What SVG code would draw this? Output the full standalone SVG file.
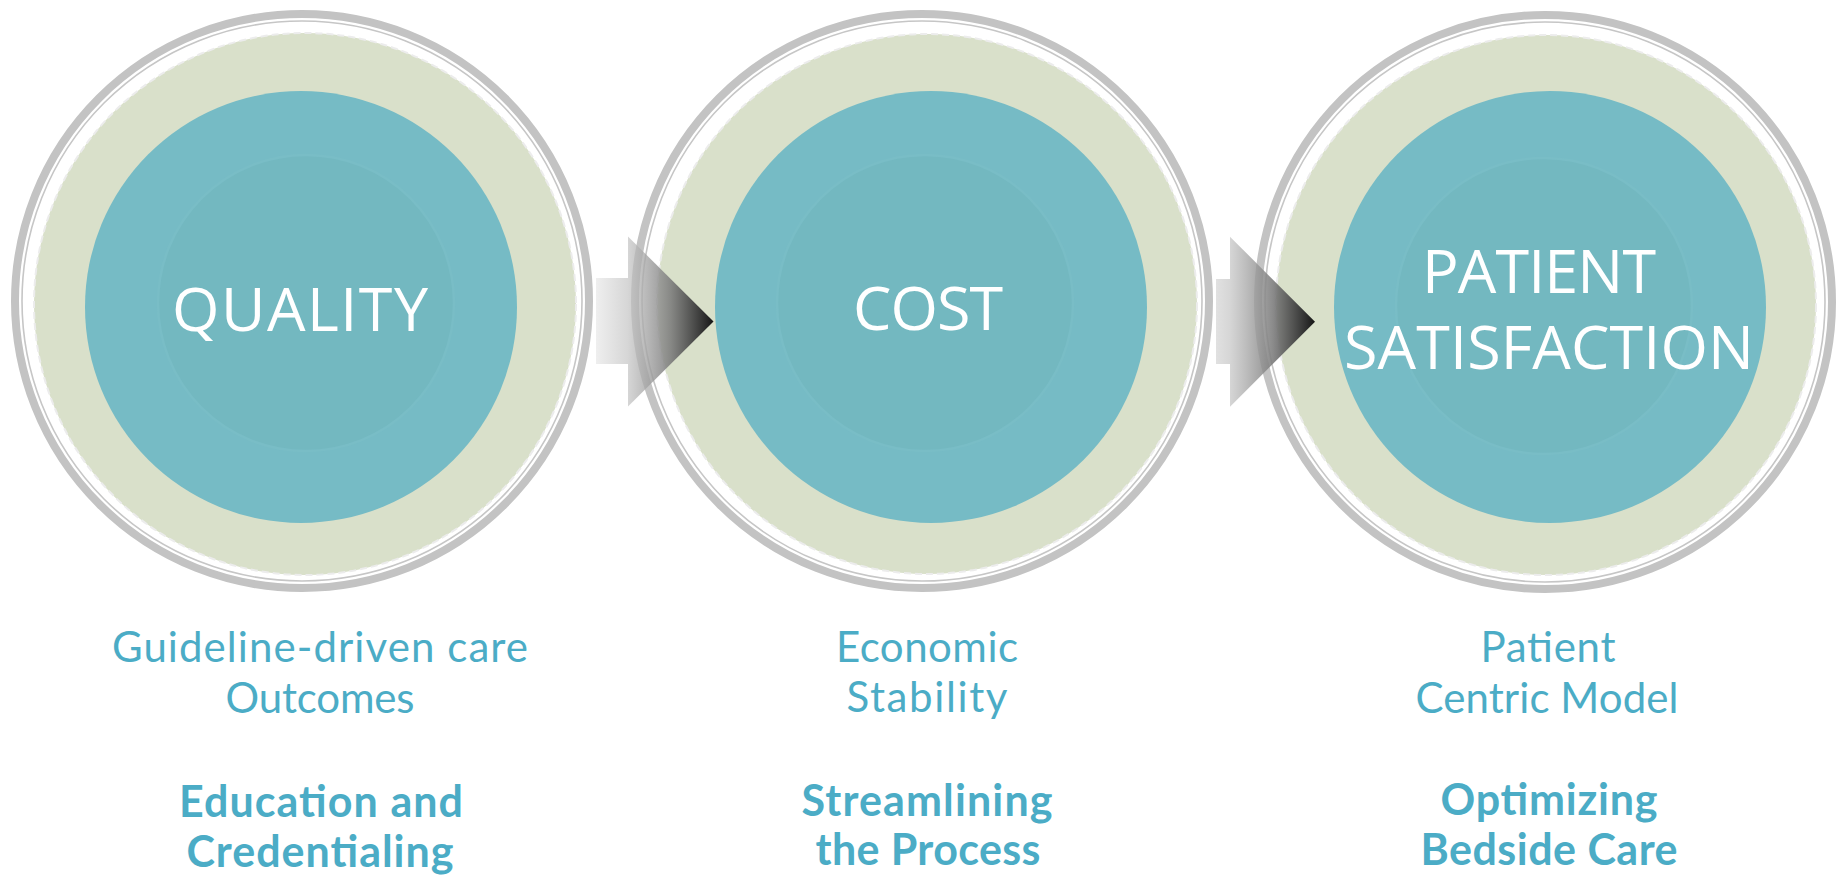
<svg xmlns="http://www.w3.org/2000/svg" width="1841" height="875" viewBox="0 0 1841 875">
  <style>
    .ring-outer { fill: none; stroke: #c3c3c3; stroke-width: 8; }
    .ring-thin { fill: none; stroke: #c6c6c6; stroke-width: 1.6; }
    .band { fill: #d9e0ca; stroke: #ececec; stroke-width: 2; stroke-dasharray: 7 4; }
    .disc { fill: #76bbc5; }
    .core { fill: #73b8c0; stroke: #79bdc6; stroke-width: 2.5; }
    .title { font-family: "Open Sans", "Liberation Sans", sans-serif; font-size: 61px; fill: #ffffff; text-anchor: middle; }
    .sub { font-family: Lato, "Liberation Sans", sans-serif; font-size: 42px; fill: #4bacc6; text-anchor: middle; }
    .sub-bold { font-family: Lato, "Liberation Sans", sans-serif; font-size: 43px; font-weight: bold; fill: #4bacc6; text-anchor: middle; }
  </style>
  <defs>
    <linearGradient id="barFade1" gradientUnits="userSpaceOnUse" x1="575" y1="0" x2="628" y2="0">
      <stop offset="0" stop-color="#ffffff"/>
      <stop offset="1" stop-color="#d6d6d6"/>
    </linearGradient>
    <linearGradient id="barFade2" gradientUnits="userSpaceOnUse" x1="1177" y1="0" x2="1230" y2="0">
      <stop offset="0" stop-color="#ffffff"/>
      <stop offset="1" stop-color="#d6d6d6"/>
    </linearGradient>
    <linearGradient id="headFade" x1="0" y1="0" x2="1" y2="0">
      <stop offset="0" stop-color="#c4c4c4" stop-opacity="0.7"/>
      <stop offset="0.5" stop-color="#7c7c7c" stop-opacity="0.88"/>
      <stop offset="1" stop-color="#151515" stop-opacity="1"/>
    </linearGradient>
  </defs>

  <rect x="0" y="0" width="1841" height="875" fill="#ffffff"/>

  <!-- Quality -->
  <g id="node-quality">
    <circle class="ring-outer" cx="302" cy="301" r="287"/>
    <circle class="ring-thin" cx="302" cy="301" r="280"/>
    <circle class="band" cx="305" cy="304" r="271"/>
    <circle class="disc" cx="301" cy="307" r="216"/>
    <circle class="core" cx="306" cy="303" r="148"/>
    <text class="title" x="300" y="331" textLength="256" lengthAdjust="spacing">QUALITY</text>
    <text class="sub" x="320" y="662" textLength="416" lengthAdjust="spacing">Guideline-driven care</text>
    <text class="sub" x="320" y="713" textLength="189" lengthAdjust="spacing">Outcomes</text>
    <text class="sub-bold" x="321" y="817" textLength="284" lengthAdjust="spacing">Education and</text>
    <text class="sub-bold" x="320" y="867" textLength="267" lengthAdjust="spacing">Credentialing</text>
  </g>

  <!-- Cost -->
  <g id="node-cost">
    <circle class="ring-outer" cx="922" cy="301" r="287"/>
    <circle class="ring-thin" cx="922" cy="301" r="280"/>
    <circle class="band" cx="927" cy="304" r="270"/>
    <circle class="disc" cx="931" cy="307" r="216"/>
    <circle class="core" cx="925" cy="303" r="148"/>
    <text class="title" x="928" y="330" textLength="150" lengthAdjust="spacing">COST</text>
    <text class="sub" x="927" y="662" textLength="182" lengthAdjust="spacing">Economic</text>
    <text class="sub" x="927" y="712" textLength="161" lengthAdjust="spacing">Stability</text>
    <text class="sub-bold" x="927" y="816" textLength="251" lengthAdjust="spacing">Streamlining</text>
    <text class="sub-bold" x="928" y="865" textLength="225" lengthAdjust="spacing">the Process</text>
  </g>

  <!-- Patient satisfaction -->
  <g id="node-patient-satisfaction">
    <circle class="ring-outer" cx="1545" cy="302" r="287"/>
    <circle class="ring-thin" cx="1545" cy="302" r="280"/>
    <circle class="band" cx="1546" cy="305" r="270"/>
    <circle class="disc" cx="1550" cy="307" r="216"/>
    <circle class="core" cx="1544" cy="306" r="148"/>
    <text class="title" x="1539" y="293" textLength="234" lengthAdjust="spacing">PATIENT</text>
    <text class="title" x="1549" y="369" textLength="410" lengthAdjust="spacing">SATISFACTION</text>
    <text class="sub" x="1548" y="662" textLength="135" lengthAdjust="spacing">Patient</text>
    <text class="sub" x="1547" y="713" textLength="263" lengthAdjust="spacing">Centric Model</text>
    <text class="sub-bold" x="1549" y="815" textLength="217" lengthAdjust="spacing">Optimizing</text>
    <text class="sub-bold" x="1549" y="865" textLength="257" lengthAdjust="spacing">Bedside Care</text>
  </g>

  <!-- Arrows between the stages -->
  <g id="connectors">
    <rect x="596" y="278" width="32" height="86" fill="url(#barFade1)"/>
    <polygon points="628,236.5 628,406.5 713.5,321.5" fill="url(#headFade)"/>
    <rect x="1216" y="279" width="14" height="85" fill="url(#barFade2)"/>
    <polygon points="1230,236.7 1230,406.7 1315,321.7" fill="url(#headFade)"/>
  </g>
</svg>
